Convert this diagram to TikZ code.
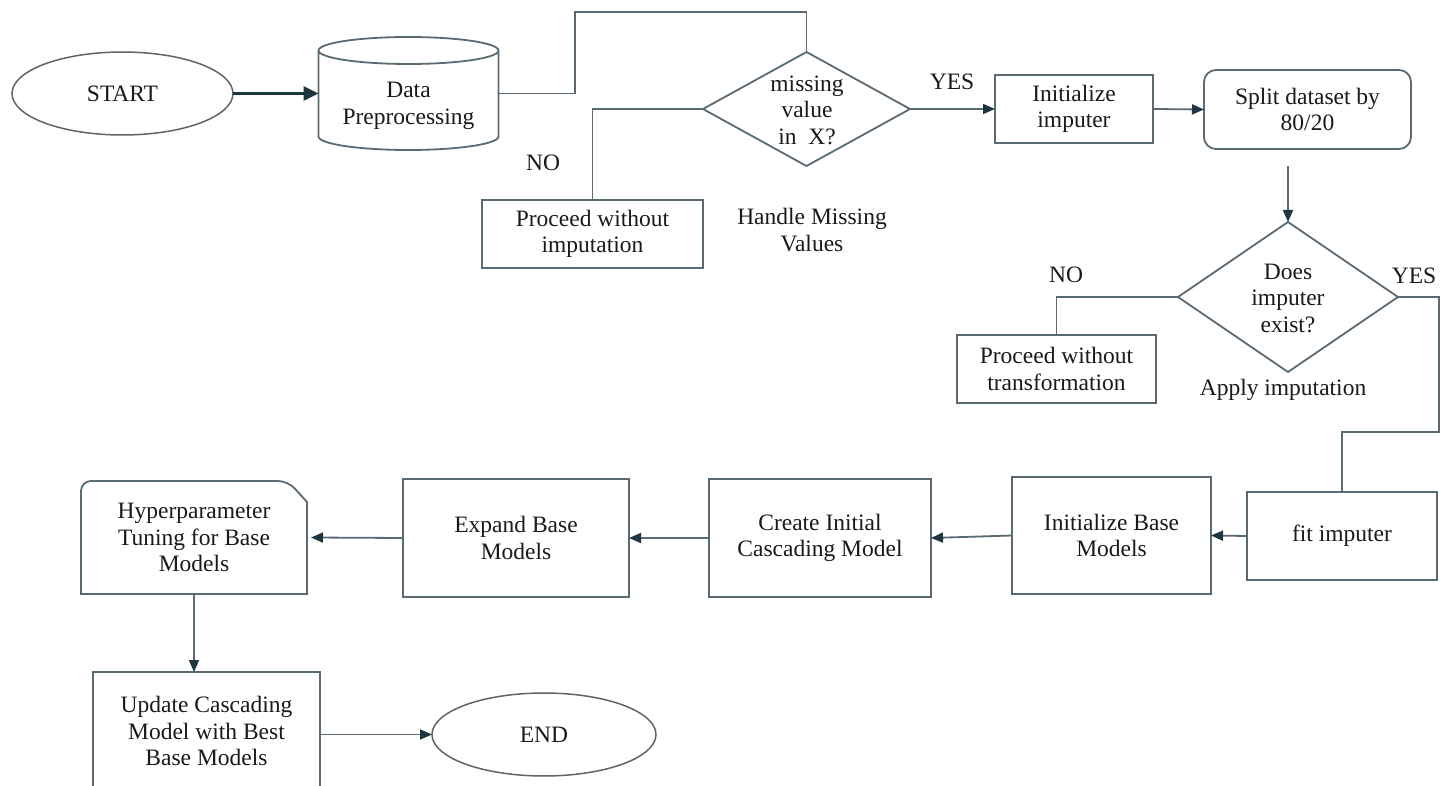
\documentclass[tikz,border=0pt]{standalone}
\usepackage{fontspec}
\setmainfont{Liberation Serif}
\usetikzlibrary{shapes.geometric,arrows.meta}
\definecolor{ln}{HTML}{5A6A73}
\definecolor{ah}{HTML}{1E3640}
\definecolor{tx}{HTML}{1A1A1A}
\definecolor{el}{HTML}{5F6468}
\begin{document}
\begin{tikzpicture}[x=1pt,y=-1pt,
  txt/.style={font=\fontsize{23.5}{26.5}\selectfont, text=tx, align=center, inner sep=0pt},
  box/.style={txt, draw=ln, line width=1.8pt, rectangle, outer sep=0pt},
  ghost/.style={txt, draw=none, rectangle, outer sep=0pt},
  oval/.style={txt, ellipse, draw=el, line width=1.5pt, outer sep=0pt},
  dia/.style={diamond, draw=ln, line width=1.8pt, inner sep=0pt, outer sep=0pt},
  conn/.style={draw=ln, line width=1.8pt},
  arr/.style={conn, -{Triangle[length=12pt,width=10pt,color=ah]}},
  bigarr/.style={draw=ah, line width=3pt, -{Triangle[length=15pt,width=14pt,color=ah]}}]
\useasboundingbox (0,0) rectangle (1452,786);
\clip (0,0) rectangle (1452,786);
\fill[white] (0,0) rectangle (1452,786);

% nodes
\node[oval, minimum width=221pt, minimum height=83pt] (st) at (122.5,93.5) {START};
\node[ghost, minimum width=180pt, minimum height=113pt] (dp) at (408.5,93.5) {};
\node[txt] (dpt) at (408.5,106) {Data\\Preprocessing};
\node[dia, minimum width=207pt, minimum height=114pt] (d1) at (806.5,109) {};
\node[txt] (d1t) at (807,110) {missing\\value\\in~ X?};
\node[box, minimum width=221pt, minimum height=68pt] (pw) at (592.5,234) {Proceed without\\imputation};
\node[txt] (no1) at (543,163) {NO};
\node[txt] (hmv) at (812,230) {Handle Missing\\Values};
\node[txt] (yes1) at (952,82) {YES};
\node[box, minimum width=158pt, minimum height=68pt] (ii) at (1074,109) {Initialize\\imputer};
\node[box, rounded corners=12pt, minimum width=207pt, minimum height=79pt] (sp) at (1307.5,109.5) {Split dataset by\\80/20};
\node[dia, minimum width=220pt, minimum height=150pt] (d2) at (1288,297) {};
\node[txt] (d2t) at (1288,298) {Does\\imputer\\exist?};
\node[txt] (no2) at (1066,275) {NO};
\node[txt] (yes2) at (1414,276) {YES};
\node[box, minimum width=199pt, minimum height=68pt] (pt) at (1056.5,369) {Proceed without\\transformation};
\node[txt] (ai) at (1283,390) {Apply imputation};
\node[box, minimum width=190pt, minimum height=88pt] (fi) at (1342,536) {fit imputer};
\node[box, minimum width=199pt, minimum height=117pt] (ib) at (1111.5,535.5) {Initialize Base\\Models};
\node[box, minimum width=222pt, minimum height=118pt] (cr) at (820,538) {Create Initial\\Cascading Model};
\node[box, minimum width=226pt, minimum height=118pt] (ex) at (516,538) {Expand Base\\Models};
\node[ghost, minimum width=226pt, minimum height=113pt] (hp) at (194,537.5) {Hyperparameter\\Tuning for Base\\Models};
\node[box, minimum width=227pt, minimum height=118pt] (up) at (206.5,731) {Update Cascading\\Model with Best\\Base Models};
\node[oval, minimum width=224pt, minimum height=83pt] (en) at (544,734.5) {END};

% custom shapes
\draw[conn] ([yshift=-13.5pt]dp.north west) -- ([yshift=13.5pt]dp.south west)
  arc[start angle=180, end angle=360, x radius=90pt, y radius=13.5pt]
  -- ([yshift=-13.5pt]dp.north east)
  arc[start angle=0, end angle=180, x radius=90pt, y radius=13.5pt]
  arc[start angle=180, end angle=360, x radius=90pt, y radius=13.5pt];
\draw[conn, rounded corners=10pt] (hp.south west) -- (hp.north west)
  -- ([xshift=-19pt]hp.north east) [sharp corners] -- ([yshift=-21pt]hp.north east)
  -- (hp.south east) -- cycle;

% coordinates
\coordinate (c1) at (575,12);
\coordinate (c2) at (1288,166);
\coordinate (c3) at (1439,432);

% connectors
\draw[bigarr] (st.east) -- (dp.west);
\draw[conn] (dp.east) -| (c1) -| (d1.north);
\draw[conn] (d1.west) -| (pw.north);
\draw[arr] (d1.east) -- (ii.west);
\draw[arr] (ii.east) -- (sp.west);
\draw[arr] (c2) -- (d2.north);
\draw[conn] (d2.west) -| (pt.north);
\draw[conn] (d2.east) -| (c3) -| (fi.north);
\draw[arr] (fi.west) -- (ib.east);
\draw[arr] (ib.west) -- (cr.east);
\draw[arr] (cr.west) -- (ex.east);
\draw[arr] (ex.west) -- ([xshift=4pt]hp.east);
\draw[arr] (hp.south) -- (hp.south |- up.north);
\draw[arr] (up.east |- en.west) -- (en.west);
\end{tikzpicture}
\end{document}
